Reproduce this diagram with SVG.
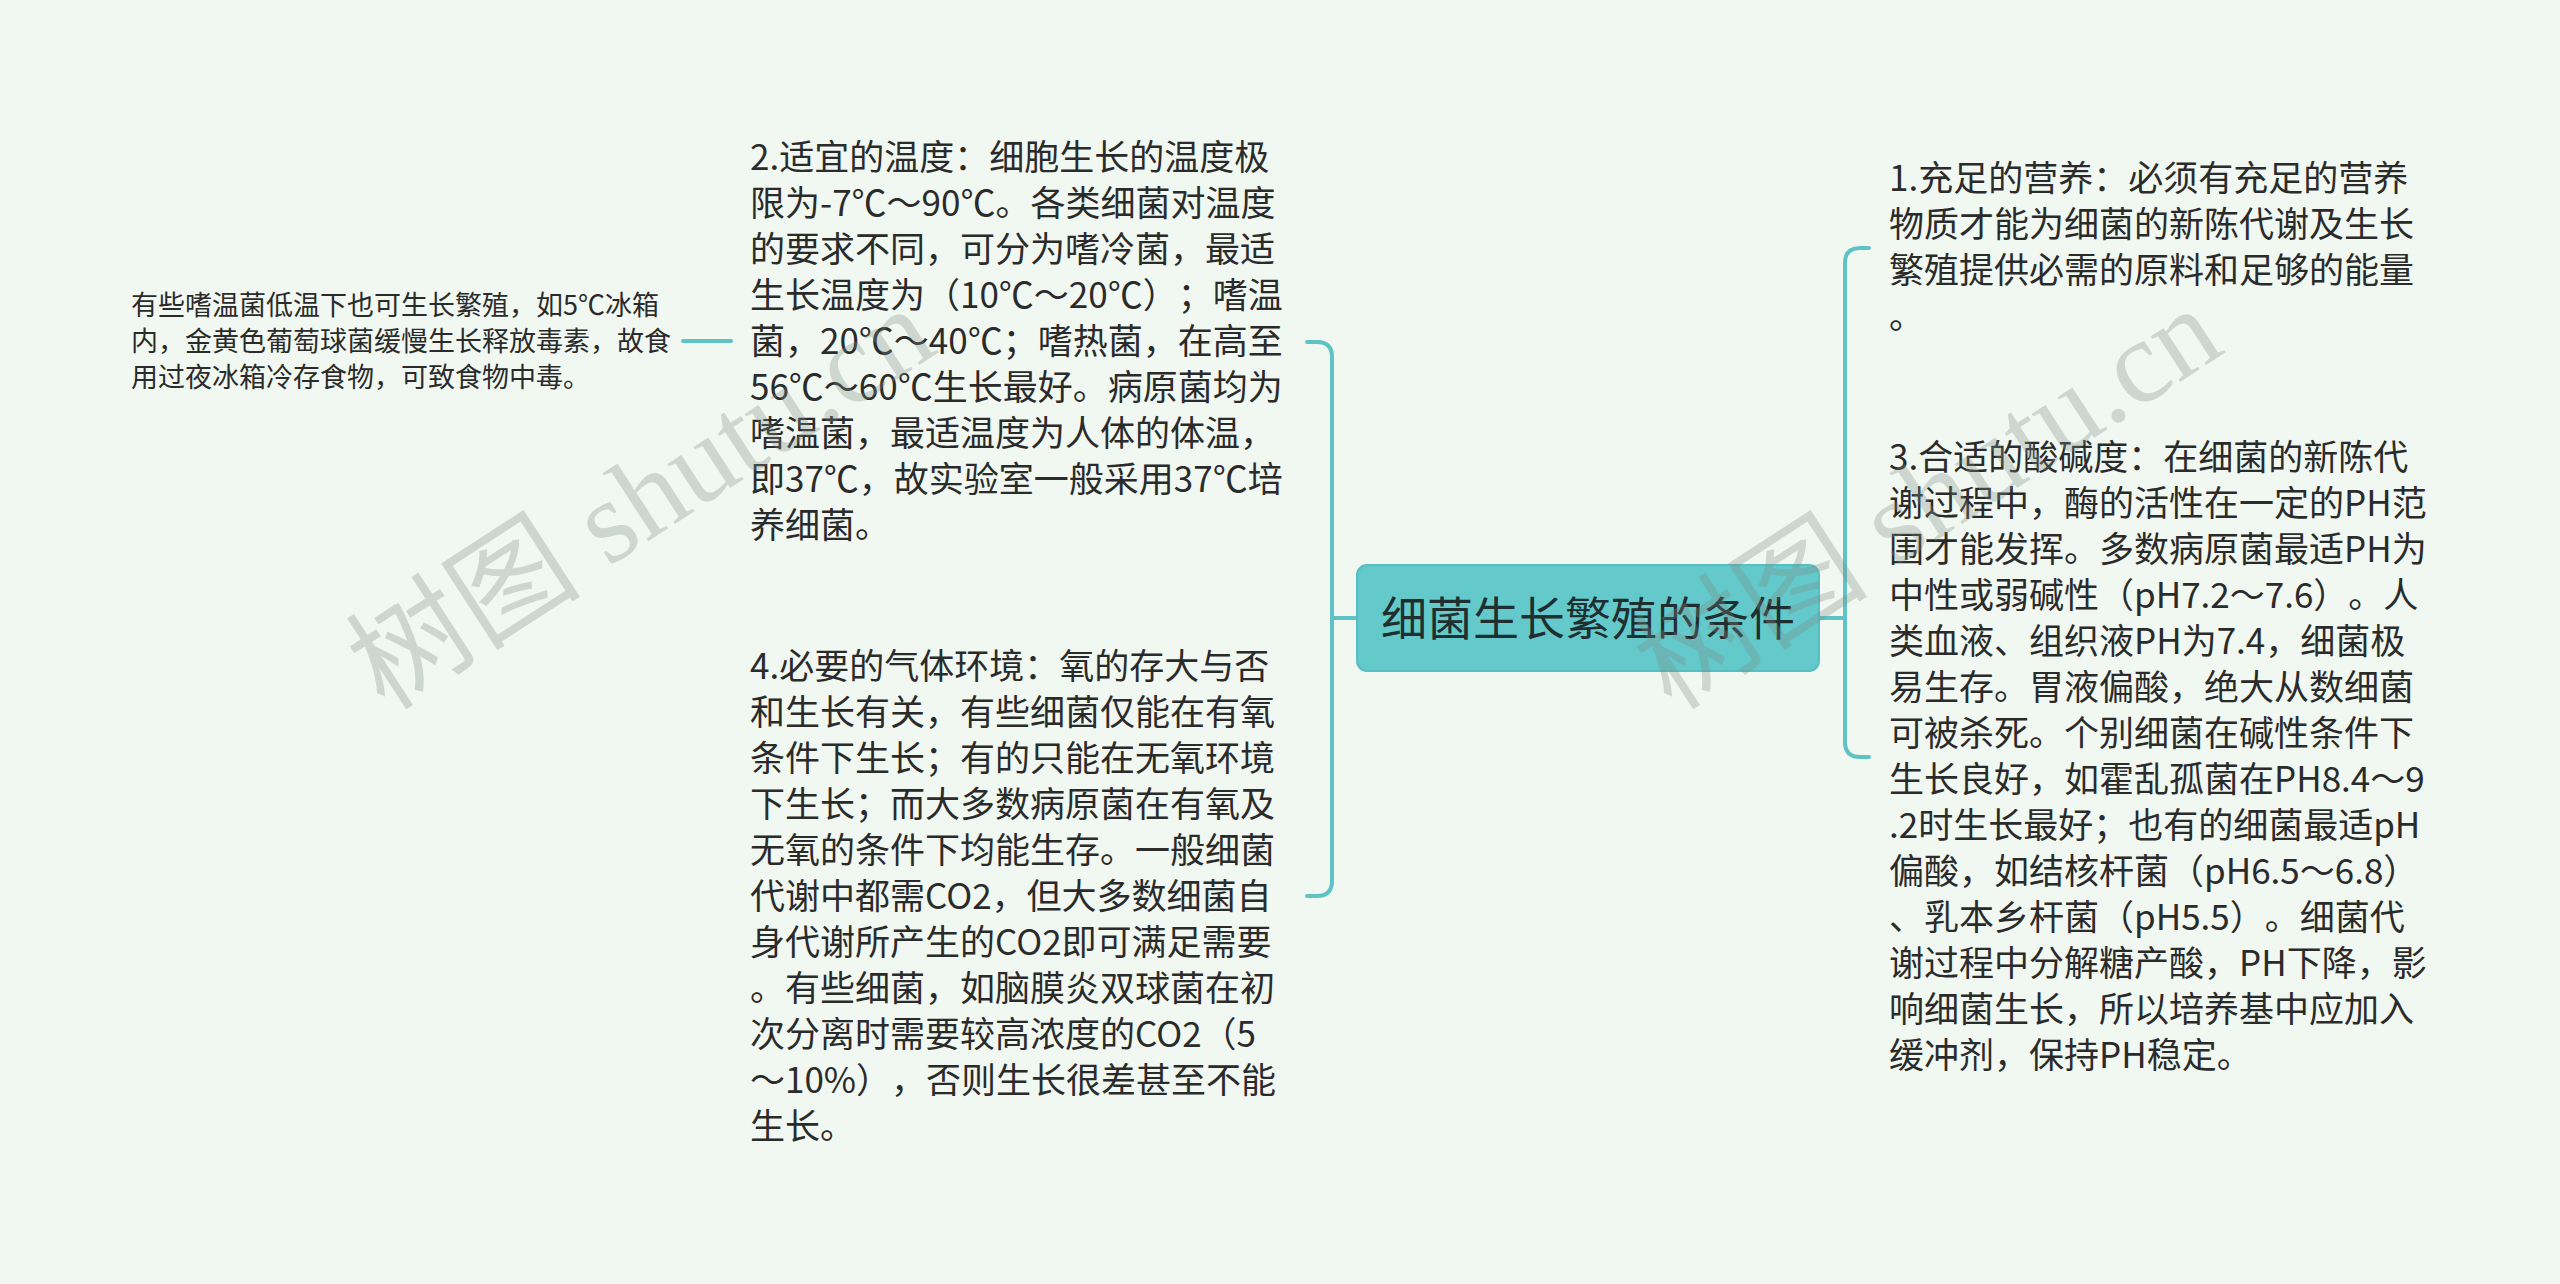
<svg xmlns="http://www.w3.org/2000/svg" width="2560" height="1284" viewBox="0 0 2560 1284">
<defs>
<style>
.bg{fill:#F0F8F1}
.t{font-family:"Microsoft YaHei","Noto Sans CJK SC","Noto Sans",sans-serif;fill:#2b2b2b;text-spacing-trim:space-all}
.body{font-size:35px}
.small{font-size:27px}
.root{font-size:46px;fill:#1f2f30}
.conn{fill:none;stroke:#5FC3C6;stroke-width:4;stroke-linecap:round}
.rootbox{fill:#63C9CB;stroke:#57BEC1;stroke-width:2}
.wm{font-family:"Liberation Serif","Noto Sans CJK SC",serif;font-size:118px;fill:#7f8a85;fill-opacity:0.3}
</style>
</defs>
<rect class="bg" x="0" y="0" width="2560" height="1284"/>
<g id="connectors">
<path class="conn" d="M1332,618 H1357"/>
<path class="conn" d="M1307,342 H1317 Q1332,342 1332,357 V881 Q1332,896 1317,896 H1307"/>
<path class="conn" d="M1819,618 H1845"/>
<path class="conn" d="M1869,248 H1860 Q1845,248 1845,263 V742 Q1845,757 1860,757 H1869"/>
<path class="conn" d="M683,341 H731"/>
</g>
<g id="root">
<rect class="rootbox" x="1357" y="565" width="462" height="106" rx="10"/>
<text class="t root" x="1588" y="635" text-anchor="middle">细菌生长繁殖的条件</text>
</g>
<g id="node2">
<text class="t body" x="750" y="170">
<tspan x="750" y="170">2.适宜的温度：细胞生长的温度极</tspan>
<tspan x="750" y="216">限为-7℃～90℃。各类细菌对温度</tspan>
<tspan x="750" y="262">的要求不同，可分为嗜冷菌，最适</tspan>
<tspan x="750" y="308">生长温度为（10℃～20℃）；嗜温</tspan>
<tspan x="750" y="354">菌，20℃～40℃；嗜热菌，在高至</tspan>
<tspan x="750" y="400">56℃～60℃生长最好。病原菌均为</tspan>
<tspan x="750" y="446">嗜温菌，最适温度为人体的体温，</tspan>
<tspan x="750" y="492">即37℃，故实验室一般采用37℃培</tspan>
<tspan x="750" y="538">养细菌。</tspan>
</text>
</g>
<g id="node2a">
<text class="t small" x="131" y="315">
<tspan x="131" y="315">有些嗜温菌低温下也可生长繁殖，如5℃冰箱</tspan>
<tspan x="131" y="351">内，金黄色葡萄球菌缓慢生长释放毒素，故食</tspan>
<tspan x="131" y="387">用过夜冰箱冷存食物，可致食物中毒。</tspan>
</text>
</g>
<g id="node4">
<text class="t body" x="750" y="679">
<tspan x="750" y="679">4.必要的气体环境：氧的存大与否</tspan>
<tspan x="750" y="725">和生长有关，有些细菌仅能在有氧</tspan>
<tspan x="750" y="771">条件下生长；有的只能在无氧环境</tspan>
<tspan x="750" y="817">下生长；而大多数病原菌在有氧及</tspan>
<tspan x="750" y="863">无氧的条件下均能生存。一般细菌</tspan>
<tspan x="750" y="909">代谢中都需CO2，但大多数细菌自</tspan>
<tspan x="750" y="955">身代谢所产生的CO2即可满足需要</tspan>
<tspan x="750" y="1001">。有些细菌，如脑膜炎双球菌在初</tspan>
<tspan x="750" y="1047">次分离时需要较高浓度的CO2（5</tspan>
<tspan x="750" y="1093">～10%），否则生长很差甚至不能</tspan>
<tspan x="750" y="1139">生长。</tspan>
</text>
</g>
<g id="node1">
<text class="t body" x="1889" y="191">
<tspan x="1889" y="191">1.充足的营养：必须有充足的营养</tspan>
<tspan x="1889" y="237">物质才能为细菌的新陈代谢及生长</tspan>
<tspan x="1889" y="283">繁殖提供必需的原料和足够的能量</tspan>
<tspan x="1889" y="329">。</tspan>
</text>
</g>
<g id="node3">
<text class="t body" x="1889" y="470">
<tspan x="1889" y="470">3.合适的酸碱度：在细菌的新陈代</tspan>
<tspan x="1889" y="516">谢过程中，酶的活性在一定的PH范</tspan>
<tspan x="1889" y="562">围才能发挥。多数病原菌最适PH为</tspan>
<tspan x="1889" y="608">中性或弱碱性（pH7.2～7.6）。人</tspan>
<tspan x="1889" y="654">类血液、组织液PH为7.4，细菌极</tspan>
<tspan x="1889" y="700">易生存。胃液偏酸，绝大从数细菌</tspan>
<tspan x="1889" y="746">可被杀死。个别细菌在碱性条件下</tspan>
<tspan x="1889" y="792">生长良好，如霍乱孤菌在PH8.4～9</tspan>
<tspan x="1889" y="838">.2时生长最好；也有的细菌最适pH</tspan>
<tspan x="1889" y="884">偏酸，如结核杆菌（pH6.5～6.8）</tspan>
<tspan x="1889" y="930">、乳本乡杆菌（pH5.5）。细菌代</tspan>
<tspan x="1889" y="976">谢过程中分解糖产酸，PH下降，影</tspan>
<tspan x="1889" y="1022">响细菌生长，所以培养基中应加入</tspan>
<tspan x="1889" y="1068">缓冲剂，保持PH稳定。</tspan>
</text>
</g>
<g id="watermarks">
<text class="wm" transform="translate(385,712) rotate(-33)">树图 shutu.cn</text>
<text class="wm" transform="translate(1672,712) rotate(-33)">树图 shutu.cn</text>
</g>
</svg>
